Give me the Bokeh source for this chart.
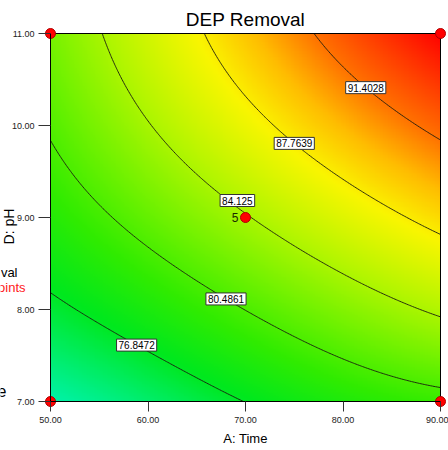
import numpy as np
from bokeh.plotting import figure
from bokeh.models import Range1d, FixedTicker, NumeralTickFormatter, Label
from bokeh.embed import file_html
from bokeh.resources import INLINE

# ---------------- data ----------------
time_ticks = [50, 60, 70, 80, 90]
ph_ticks = [7, 8, 9, 10, 11]
# DEP removal estimated at grid nodes: rows pH 7..11, cols time 50..90
removal_grid = [
    [73.4, 75.0, 77.0, 78.5, 79.7],
    [76.3, 78.4, 80.2, 82.8, 84.5],
    [78.85, 81.6, 84.1, 86.35, 88.35],
    [80.75, 83.9, 86.9, 89.6, 92.0],
    [82.2, 85.8, 89.2, 92.3, 95.2],
]
contour_levels = [76.8472, 80.4861, 84.125, 87.7639, 91.4028]
contour_label_time = [58.8, 68.0, 69.2, 75.0, 82.3]
contour_label_lift = [0, 0, 7, 0, 0]   # px
design_time = [50, 50, 90, 90, 70]
design_ph = [7, 11, 7, 11, 9]
center_reps = "5"

# colour map (value -> rgb)
cmap_values = [73.5, 77.0, 79.5, 82.0, 84.5, 87.5, 89.5, 91.5, 95.3]
cmap_r = [0, 0, 50, 115, 180, 250, 255, 255, 255]
cmap_g = [242, 232, 236, 242, 246, 245, 190, 112, 0]
cmap_b = [165, 30, 0, 0, 0, 0, 0, 0, 0]

FONT = "'Liberation Sans', Arial, sans-serif"

# ---------------- layout (pixels) ----------------
W, H = 448, 450
FRAME_L, FRAME_R, FRAME_T, FRAME_B = 50, 440, 33, 401

# ---------------- smooth bicubic surface through the read grid ----------------
T, P = np.meshgrid(np.array(time_ticks, float), np.array(ph_ticks, float))
Zg = np.array(removal_grid, float)
def coded(t, ph):
    return (t - 70.0) / 20.0, (ph - 9.0) / 2.0
def design(a, d):
    return np.stack([a ** i * d ** j for i in range(4) for j in range(4)], axis=-1)
a0, d0 = coded(T.ravel(), P.ravel())
coef, *_ = np.linalg.lstsq(design(a0, d0), Zg.ravel(), rcond=None)

nx, ny = 241, 241
x0, x1 = time_ticks[0], time_ticks[-1]
y0, y1 = ph_ticks[0], ph_ticks[-1]
xf = np.linspace(x0, x1, nx)
yf = np.linspace(y0, y1, ny)
XF, YF = np.meshgrid(xf, yf)
af, df = coded(XF, YF)
ZF = design(af, df) @ coef

img = np.empty((ny, nx), dtype=np.uint32)
view = img.view(dtype=np.uint8).reshape((ny, nx, 4))
view[:, :, 0] = np.interp(ZF, cmap_values, cmap_r).astype(np.uint8)
view[:, :, 1] = np.interp(ZF, cmap_values, cmap_g).astype(np.uint8)
view[:, :, 2] = np.interp(ZF, cmap_values, cmap_b).astype(np.uint8)
view[:, :, 3] = 255

# ranges extended so that the whole canvas is the plotting frame
sx = (x1 - x0) / (FRAME_R - FRAME_L)
sy = (y1 - y0) / (FRAME_B - FRAME_T)
xr = Range1d(x0 - FRAME_L * sx, x1 + (W - FRAME_R) * sx)
yr = Range1d(y0 - (H - FRAME_B) * sy, y1 + FRAME_T * sy)

p = figure(width=W, height=H, output_backend="svg", toolbar_location=None,
           x_range=xr, y_range=yr, min_border=0,
           min_border_left=0, min_border_right=0, min_border_top=0, min_border_bottom=0)
p.background_fill_color = "white"
p.border_fill_color = "white"
p.outline_line_color = None
p.xgrid.visible = False
p.ygrid.visible = False
p.title.visible = False

p.image_rgba(image=[img], x=x0, y=y0, dw=x1 - x0, dh=y1 - y0)
p.contour(x=xf, y=yf, z=ZF, levels=contour_levels, line_color="#1a1a10", line_width=0.9)
# frame box around the design space
p.quad(left=[x0], right=[x1], bottom=[y0], top=[y1], fill_color=None,
       line_color="black", line_width=1)

for lev, t, lift in zip(contour_levels, contour_label_time, contour_label_lift):
    j = int(np.argmin(np.abs(xf - t)))
    ly = float(np.interp(lev, ZF[:, j], yf))
    p.add_layout(Label(x=float(xf[j]), y=ly, y_offset=lift, text=f"{lev:g}", text_align="center",
                       text_baseline="middle", text_font_size="10px", text_font=FONT,
                       text_color="black", background_fill_color="white",
                       border_line_color="#333333", border_line_width=1, padding=2))

p.scatter(design_time, design_ph, size=10, fill_color="#ff0000", line_color="#b00000", line_width=1)
p.add_layout(Label(x=design_time[-1], y=design_ph[-1], text=center_reps, x_offset=-7,
                   text_align="right", text_baseline="middle", text_font_size="12px",
                   text_font=FONT, text_color="#1a2a00"))

# title
p.add_layout(Label(x=(x0 + x1) / 2, y=H - 19, y_units="screen", text="DEP Removal",
                   text_align="center", text_baseline="alphabetic",
                   text_font_size="19px", text_font=FONT, text_color="black"))

# axes drawn at the edges of the design space
p.xaxis.fixed_location = y0
p.yaxis.fixed_location = x0
p.xaxis.bounds = (x0, x1)
p.yaxis.bounds = (y0, y1)
p.xaxis.ticker = FixedTicker(ticks=time_ticks)
p.yaxis.ticker = FixedTicker(ticks=ph_ticks)
p.xaxis.formatter = NumeralTickFormatter(format="0.00")
p.yaxis.formatter = NumeralTickFormatter(format="0.00")
for ax in (p.xaxis, p.yaxis):
    ax.axis_line_color = "black"
    ax.major_tick_line_color = "#333333"
    ax.major_tick_in = 0
    ax.minor_tick_line_color = None
    ax.major_label_text_font_size = "9px"
    ax.major_label_text_font = FONT
    ax.major_label_text_color = "#222222"
p.xaxis.major_tick_out = 10
p.yaxis.major_tick_out = 12
p.xaxis.major_label_standoff = 5
p.yaxis.major_label_standoff = 4
p.xaxis.axis_label = "A: Time"
p.xaxis.axis_label_text_font_size = "13px"
p.xaxis.axis_label_text_font_style = "normal"
p.xaxis.axis_label_text_font = FONT
p.xaxis.axis_label_text_color = "black"
p.xaxis.axis_label_standoff = 5

# y axis title, partly cut by the window edge as in the reference
p.add_layout(Label(x=8, y=H - 226, x_units="screen", y_units="screen", text="D: pH",
                   angle=np.pi / 2, text_align="center", text_baseline="alphabetic",
                   text_font_size="14px", text_font=FONT, text_color="black"))
# fragments of the cut-off legend on the left
p.add_layout(Label(x=17, y=H - 272, x_units="screen", y_units="screen", text="val",
                   text_align="right", text_baseline="alphabetic", text_font_size="13px",
                   text_font=FONT, text_color="black"))
p.add_layout(Label(x=25, y=H - 287, x_units="screen", y_units="screen", text="oints",
                   text_align="right", text_baseline="alphabetic", text_font_size="13px",
                   text_font=FONT, text_color="#ff2020"))
p.add_layout(Label(x=6, y=H - 390, x_units="screen", y_units="screen", text="e",
                   text_align="right", text_baseline="alphabetic", text_font_size="16px",
                   text_font=FONT, text_color="black"))

open("out.html", "w").write(file_html(p, INLINE))
